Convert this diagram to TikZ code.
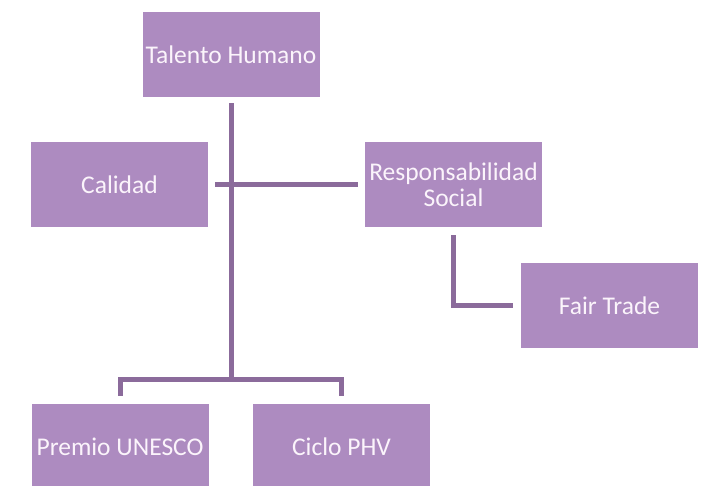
\documentclass[tikz,border=0pt]{standalone}
\usepackage{fontspec}
\setmainfont{Carlito}
\definecolor{cajafill}{HTML}{AD8BC0}
\definecolor{enlacecol}{HTML}{8B6B9B}
\definecolor{textocol}{HTML}{FBF4FB}
\tikzset{
  caja/.style={rectangle, fill=cajafill, text=textocol, minimum width=177pt,
               minimum height=85pt, inner sep=0pt, align=center,
               font=\fontsize{25.5}{26}\selectfont},
  enlace/.style={draw=enlacecol, line width=5pt}
}
\begin{document}
\begin{tikzpicture}[x=1pt, y=-1pt]
    \useasboundingbox (0, 0) rectangle (713, 486);
    \clip (0, 0) rectangle (713, 486);
    \node[caja] (th) at (231, 54.5) {Talento Humano};
    \node[caja] (cal) at (119.5, 184.5) {Calidad};
    \node[caja] (rs) at (453.5, 184.5) {Responsabilidad\\Social};
    \node[caja] (ft) at (609.5, 305.5) {Fair Trade};
    \node[caja] (pu) at (120, 446.5) {Premio UNESCO};
    \node[caja] (cp) at (341.5, 446.5) {Ciclo PHV};
    \coordinate (hub) at (231, 380);
    \draw[enlace, shorten <=6pt] (th.south) -- (hub);
    \draw[enlace, shorten <=7pt, shorten >=7pt] (cal.east) -- (rs.west);
    \draw[enlace, shorten <=8pt, shorten >=8pt] (pu.north) |- (hub) -| (cp.north);
    \draw[enlace, shorten <=8pt, shorten >=8pt] (rs.south) |- (ft.west);
  \end{tikzpicture}
\end{document}
